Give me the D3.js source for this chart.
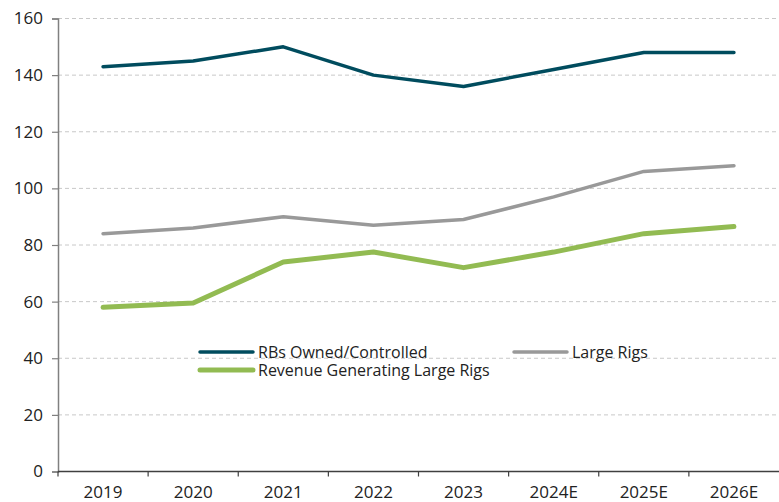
<!DOCTYPE html>
<html>
<head>
<meta charset="utf-8">
<script src="https://cdn.jsdelivr.net/npm/d3@7"></script>
<style>
  body { margin: 0; background: #fff; }
  text { font-family: "Open Sans", sans-serif; fill: #222; }
</style>
</head>
<body>
<svg id="chart" width="779" height="502"></svg>
<script>
// chart data
years = ["2019", "2020", "2021", "2022", "2023", "2024E", "2025E", "2026E"]
rbsOwned = [143, 145, 150, 140, 136, 142, 148, 148]
largeRigs = [84, 86, 90, 87, 89, 97, 106, 108]
revenueRigs = [58, 59.5, 74, 77.5, 72, 77.5, 84, 86.5]
yTicks = [0, 20, 40, 60, 80, 100, 120, 140, 160]

series = [
    { name: "RBs Owned/Controlled", values: rbsOwned, color: "#004c5e", width: 3.5 },
    { name: "Large Rigs", values: largeRigs, color: "#999999", width: 3.5 },
    { name: "Revenue Generating Large Rigs", values: revenueRigs, color: "#92bb52", width: 5 }
]

const plotLeft = 58, plotRight = 779, plotTop = 18.5, plotBottom = 471.5

const svg = d3.select("#chart")

const xScale = d3.scaleBand()
    .domain(years)
    .range([plotLeft, plotRight])

const yScale = d3.scaleLinear()
    .domain([0, 160])
    .range([plotBottom, plotTop])

// grid lines
svg.append("g")
    .selectAll("line")
    .data(yTicks.filter(d => d > 0))
    .join("line")
    .attr("x1", plotLeft)
    .attr("x2", plotRight)
    .attr("y1", d => yScale(d))
    .attr("y2", d => yScale(d))
    .attr("stroke", "#c8c8c8")
    .attr("stroke-width", 1)
    .attr("stroke-dasharray", "4,3")

// Y axis
var yAxis = svg.append("g")
    .attr("transform", `translate(${plotLeft},0)`)
    .call(d3.axisLeft(yScale).tickValues(yTicks).tickSize(6).tickPadding(9))
yAxis.select(".domain").attr("stroke", "#808080").attr("stroke-width", 1.5)
yAxis.selectAll(".tick line").attr("stroke", "#808080").attr("stroke-width", 1.2)
yAxis.selectAll(".tick text").style("font-size", "17px").attr("fill", "#222")

// X axis (ticks between categories)
var xAxis = svg.append("g")
    .attr("transform", `translate(0,${plotBottom})`)
xAxis.append("line")
    .attr("x1", plotLeft).attr("x2", plotRight)
    .attr("stroke", "#404040").attr("stroke-width", 1.5)
xAxis.selectAll(".xtick")
    .data(years)
    .join("line")
    .attr("x1", d => xScale(d))
    .attr("x2", d => xScale(d))
    .attr("y1", 0).attr("y2", 5)
    .attr("stroke", "#404040").attr("stroke-width", 1.2)
xAxis.selectAll(".xlabel")
    .data(years)
    .join("text")
    .attr("x", d => xScale(d) + xScale.bandwidth() / 2)
    .attr("y", 26)
    .attr("text-anchor", "middle")
    .style("font-size", "17px")
    .text(d => d)

// lines
const line = d3.line()
    .x((d, i) => xScale(years[i]) + xScale.bandwidth() / 2)
    .y(d => yScale(d))

for (const s of series) {
    svg.append("path")
        .datum(s.values)
        .attr("fill", "none")
        .attr("stroke", s.color)
        .attr("stroke-width", s.width)
        .attr("stroke-linecap", "round")
        .attr("stroke-linejoin", "round")
        .attr("d", line)
}

// legend
const legendPos = [[200, 352], [514, 352], [200, 370]]
series.forEach(function(s, i) {
    const p = legendPos[i]
    svg.append("line")
        .attr("x1", p[0]).attr("x2", p[0] + 53)
        .attr("y1", p[1]).attr("y2", p[1])
        .attr("stroke", s.color)
        .attr("stroke-width", s.width)
        .attr("stroke-linecap", "round")
    svg.append("text")
        .attr("x", p[0] + 58)
        .attr("y", p[1] + 6)
        .style("font-size", "16px")
        .text(s.name)
})
</script>
</body>
</html>
